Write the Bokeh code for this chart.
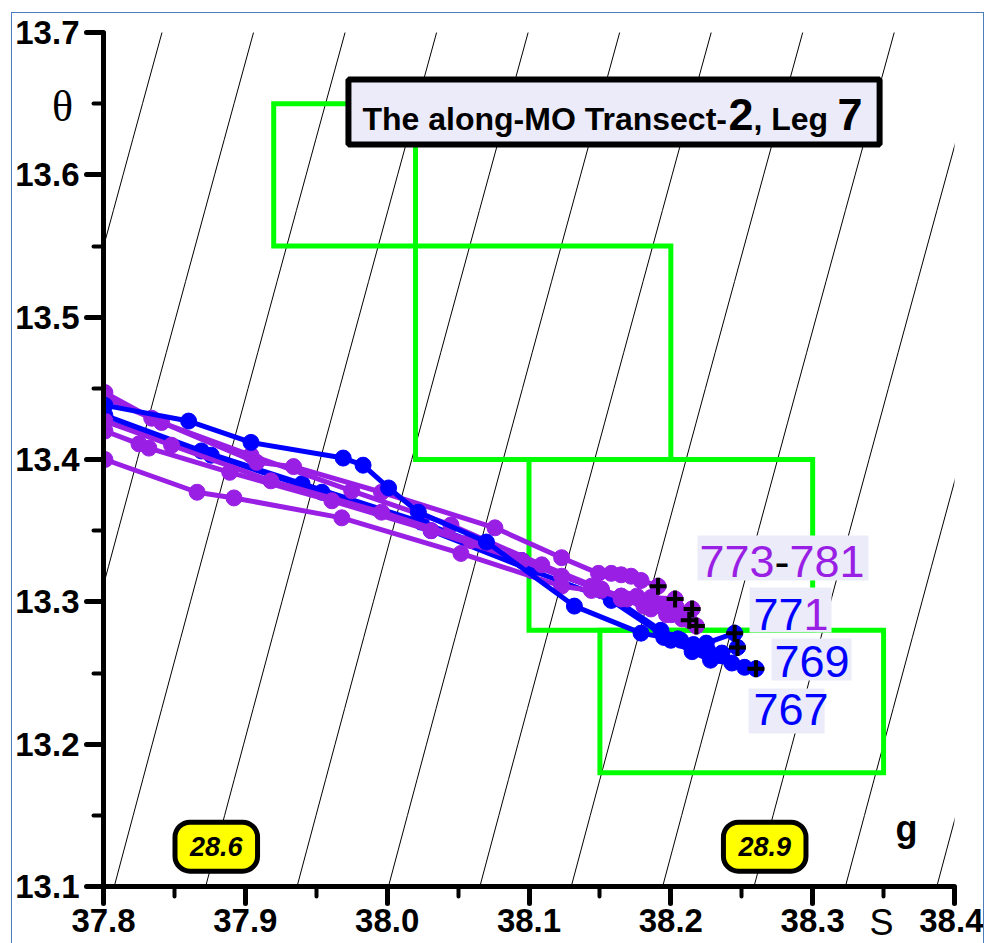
import numpy as np
from bokeh.plotting import figure
from bokeh.models import Label, BoxAnnotation, FixedTicker, PrintfTickFormatter
from bokeh.embed import file_html
from bokeh.resources import INLINE

# ---- axes -------------------------------------------------------------
S_RANGE = (37.8, 38.4)
T_RANGE = (13.1, 13.7)
S_TICKS = [37.8, 37.9, 38.0, 38.1, 38.2, 38.3, 38.4]
S_MINOR = [37.85, 37.95, 38.05, 38.15, 38.25, 38.35]
T_TICKS = [13.1, 13.2, 13.3, 13.4, 13.5, 13.6, 13.7]
T_MINOR = [13.15, 13.25, 13.35, 13.45, 13.55, 13.65]

# ---- isopycnals (sigma-theta, kg/m3) -----------------------------------
SIGMA_LEVELS = [28.40, 28.45, 28.50, 28.55, 28.60, 28.65, 28.70, 28.75,
                28.80, 28.85, 28.90, 28.95, 29.00, 29.05]
SIGMA_LABELS = ["28.6", "28.9"]

# ---- water-mass boxes ----------------------------------------------------
BOX_S_MIN = [37.92, 38.02, 38.10, 38.15]
BOX_S_MAX = [38.02, 38.20, 38.30, 38.35]
BOX_T_MIN = [13.55, 13.40, 13.28, 13.18]
BOX_T_MAX = [13.65, 13.55, 13.40, 13.28]

# ---- CTD profiles (salinity, potential temperature) -----------------------
S_767 = [37.770, 37.801, 37.876, 37.954, 38.031, 38.102, 38.158, 38.200, 38.215, 38.228, 38.243, 38.252, 38.260]
T_767 = [13.433, 13.427, 13.403, 13.377, 13.350, 13.322, 13.301, 13.273, 13.265, 13.259, 13.257, 13.254, 13.253]

S_769 = [37.770, 37.801, 37.869, 37.940, 38.024, 38.095, 38.151, 38.193, 38.205, 38.215, 38.226, 38.236, 38.247]
T_769 = [13.436, 13.431, 13.406, 13.383, 13.356, 13.329, 13.308, 13.280, 13.274, 13.269, 13.266, 13.264, 13.268]

S_771 = [37.770, 37.801, 37.860, 37.904, 37.969, 37.983, 38.001, 38.022, 38.070, 38.132, 38.179, 38.195, 38.207, 38.216, 38.225, 38.245]
T_771 = [13.442, 13.438, 13.427, 13.412, 13.401, 13.396, 13.380, 13.363, 13.342, 13.297, 13.278, 13.275, 13.273, 13.270, 13.271, 13.278]

S_773 = [37.770, 37.801, 37.834, 37.908, 37.934, 37.996, 38.076, 38.123, 38.149, 38.158, 38.165, 38.172, 38.179, 38.191]
T_773 = [13.455, 13.447, 13.429, 13.398, 13.395, 13.377, 13.352, 13.331, 13.320, 13.320, 13.319, 13.318, 13.315, 13.311]

S_775 = [37.770, 37.801, 37.866, 37.892, 37.968, 38.052, 38.123, 38.144, 38.165, 38.176, 38.186, 38.203]
T_775 = [13.410, 13.400, 13.377, 13.373, 13.359, 13.334, 13.311, 13.308, 13.304, 13.304, 13.303, 13.302]

S_777 = [37.770, 37.801, 37.825, 37.832, 37.889, 37.961, 38.031, 38.095, 38.151, 38.165, 38.179, 38.193, 38.204, 38.215]
T_777 = [13.432, 13.420, 13.411, 13.408, 13.391, 13.371, 13.350, 13.329, 13.308, 13.304, 13.301, 13.297, 13.296, 13.295]

S_779 = [37.770, 37.801, 37.841, 37.904, 37.975, 38.045, 38.109, 38.151, 38.169, 38.186, 38.2005, 38.213]
T_779 = [13.454, 13.443, 13.426, 13.403, 13.378, 13.354, 13.326, 13.309, 13.302, 13.295, 13.291, 13.287]

S_781 = [37.770, 37.801, 37.848, 37.918, 37.996, 38.059, 38.123, 38.144, 38.165, 38.181, 38.197, 38.208, 38.218]
T_781 = [13.438, 13.427, 13.410, 13.385, 13.363, 13.343, 13.318, 13.311, 13.302, 13.297, 13.291, 13.288, 13.283]

PURPLE = "#9a1fe4"
BLUE = "#0000ff"
GREEN = "#00ff00"
PANEL = "#ebebfa"
PAGE_EDGE = "#4a7ebb"

# drawing order (later ones on top)
PROFILES = [
    (S_767, T_767, BLUE),
    (S_769, T_769, BLUE),
    (S_775, T_775, PURPLE),
    (S_777, T_777, PURPLE),
    (S_781, T_781, PURPLE),
    (S_779, T_779, PURPLE),
    (S_773, T_773, PURPLE),
    (S_771, T_771, BLUE),
]


def sigma_theta(S, T):
    """UNESCO (1983) density of sea water at p = 0, minus 1000."""
    S = np.asarray(S, dtype=float)
    rho_w = (999.842594 + 6.793952e-2 * T - 9.095290e-3 * T**2
             + 1.001685e-4 * T**3 - 1.120083e-6 * T**4 + 6.536332e-9 * T**5)
    A = (8.24493e-1 - 4.0899e-3 * T + 7.6438e-5 * T**2
         - 8.2467e-7 * T**3 + 5.3875e-9 * T**4)
    B = -5.72466e-3 + 1.0227e-4 * T - 1.6546e-6 * T**2
    C = 4.8314e-4
    return rho_w + A * S + B * S**1.5 + C * S**2 - 1000.0


S_GRID = np.linspace(37.3, 38.9, 8001)


def salinity_on(level, T):
    return float(np.interp(level, sigma_theta(S_GRID, T), S_GRID))


FRAME_W, FRAME_H = 851, 854
DT_PER_PX = (T_RANGE[1] - T_RANGE[0]) / FRAME_H


def mid(baseline_t, size_px):
    """Centre of the capitals for text sitting on a given baseline."""
    return baseline_t + 0.358 * size_px * DT_PER_PX


p = figure(
    frame_width=FRAME_W, frame_height=FRAME_H,
    x_range=S_RANGE, y_range=T_RANGE,
    output_backend="svg", toolbar_location=None,
    min_border_left=90, min_border_right=29,
    min_border_top=19, min_border_bottom=44,
    margin=(12, 0, 0, 11),
    styles={"border-top": f"1px solid {PAGE_EDGE}",
            "border-left": f"1px solid {PAGE_EDGE}",
            "border-right": f"1px solid {PAGE_EDGE}"},
)
p.xgrid.visible = False
p.ygrid.visible = False
p.outline_line_color = None
p.background_fill_color = "white"
p.border_fill_color = "white"

p.xaxis.ticker = FixedTicker(ticks=S_TICKS, minor_ticks=S_MINOR)
p.yaxis.ticker = FixedTicker(ticks=T_TICKS, minor_ticks=T_MINOR)
for ax in (p.xaxis[0], p.yaxis[0]):
    ax.formatter = PrintfTickFormatter(format="%.1f")
    ax.axis_line_width = 5
    ax.axis_line_color = "black"
    ax.major_tick_line_width = 5
    ax.major_tick_line_color = "black"
    ax.major_tick_line_cap = "round"
    ax.major_tick_in = 0
    ax.major_tick_out = 17
    ax.minor_tick_line_width = 4
    ax.minor_tick_line_color = "black"
    ax.minor_tick_line_cap = "round"
    ax.minor_tick_in = 0
    ax.minor_tick_out = 10
    ax.major_label_text_font = "Liberation Sans"
    ax.major_label_text_font_size = "33px"
    ax.major_label_text_font_style = "bold"
    ax.major_label_text_color = "black"
p.yaxis.major_label_standoff = 7
p.xaxis.major_label_standoff = 5

# isopycnals
T_LINE = np.linspace(13.0, 13.8, 33)
xs_iso = [[salinity_on(lv, t) for t in T_LINE] for lv in SIGMA_LEVELS]
ys_iso = [list(T_LINE) for _ in SIGMA_LEVELS]
p.multi_line(xs_iso, ys_iso, line_color="black", line_width=1)

# water-mass boxes
p.quad(left=BOX_S_MIN, right=BOX_S_MAX, bottom=BOX_T_MIN, top=BOX_T_MAX,
       fill_alpha=0, line_color=GREEN, line_width=5, line_join="miter")

# profiles
for s, t, c in PROFILES:
    p.line(s, t, line_color=c, line_width=5, line_join="round")
    p.scatter(s[1:], t[1:], size=16, fill_color=c, line_color=c)

# deepest sample of each profile
p.scatter([s[-1] for s, _, _ in PROFILES], [t[-1] for _, t, _ in PROFILES],
          marker="cross", size=17, line_width=4, line_color="black")

# isopycnal tags
T_TAG = 13.128
for txt in SIGMA_LABELS:
    p.add_layout(Label(
        x=salinity_on(float(txt), T_TAG), y=T_TAG, text=txt,
        text_align="center", text_baseline="middle",
        text_font="Liberation Sans", text_font_size="27px",
        text_font_style="bold italic", text_color="black",
        background_fill_color="#ffff00", border_line_color="black",
        border_line_width=5, border_radius=15, padding=15,
    ))

# title panel
p.add_layout(BoxAnnotation(left=37.9727, right=38.3472, bottom=13.6213, top=13.667,
                           fill_color=PANEL, fill_alpha=1.0,
                           line_color="black", line_alpha=1.0, line_width=6))
TITLE_BASE = 13.6310
title_parts = [("The along-MO Transect-", 32, 0), ("2", 45, 366),
               (", Leg ", 32, 391), ("7", 45, 475)]
for txt, size, dx in title_parts:
    p.add_layout(Label(x=37.9826, y=mid(TITLE_BASE, size), x_offset=dx, text=txt,
                       text_align="left", text_baseline="middle",
                       text_font="Liberation Sans", text_font_size=f"{size}px",
                       text_font_style="bold", text_color="black"))

# unit symbol inside the frame
p.add_layout(Label(x=38.3662, y=mid(13.1320, 36), text="g",
                   text_align="center", text_baseline="middle",
                   text_font="Liberation Sans", text_font_size="36px",
                   text_font_style="bold", text_color="black"))

# axis symbols sit in the margins
p.add_layout(Label(x=37.8, y=13.648, x_offset=-41, text="θ",
                   text_align="center", text_baseline="middle",
                   text_font="Liberation Serif", text_font_size="44px",
                   text_color="black"), "below")
p.add_layout(Label(x=38.3485, y=mid(13.0660, 36), text="S",
                   text_align="center", text_baseline="middle",
                   text_font="Liberation Sans", text_font_size="36px",
                   text_color="black"), "below")

# station tags: panel box, text baseline, coloured pieces
STATION_TAGS = [
    ((38.2188, 38.3394, 13.3150, 13.3466), 38.2202, 13.3171,
     [("773", PURPLE, 0), ("-", "black", 75), ("781", PURPLE, 90)]),
    ((38.2555, 38.3133, 13.2784, 13.3101), 38.2583, 13.2798,
     [("77", BLUE, 0), ("1", PURPLE, 50)]),
    ((38.2710, 38.3274, 13.2447, 13.2742), 38.2731, 13.2468,
     [("769", BLUE, 0)]),
    ((38.2548, 38.3084, 13.2075, 13.2391), 38.2583, 13.2131,
     [("767", BLUE, 0)]),
]
for (l, r, b, t), x, y, pieces in STATION_TAGS:
    p.add_layout(BoxAnnotation(left=l, right=r, bottom=b, top=t,
                               fill_color=PANEL, fill_alpha=1.0, line_color=None))
    for txt, col, dx in pieces:
        p.add_layout(Label(x=x, y=mid(y, 45), x_offset=dx, text=txt,
                           text_align="left", text_baseline="middle",
                           text_font="Liberation Sans", text_font_size="45px",
                           text_color=col))

open("out.html", "w").write(file_html(p, INLINE))
